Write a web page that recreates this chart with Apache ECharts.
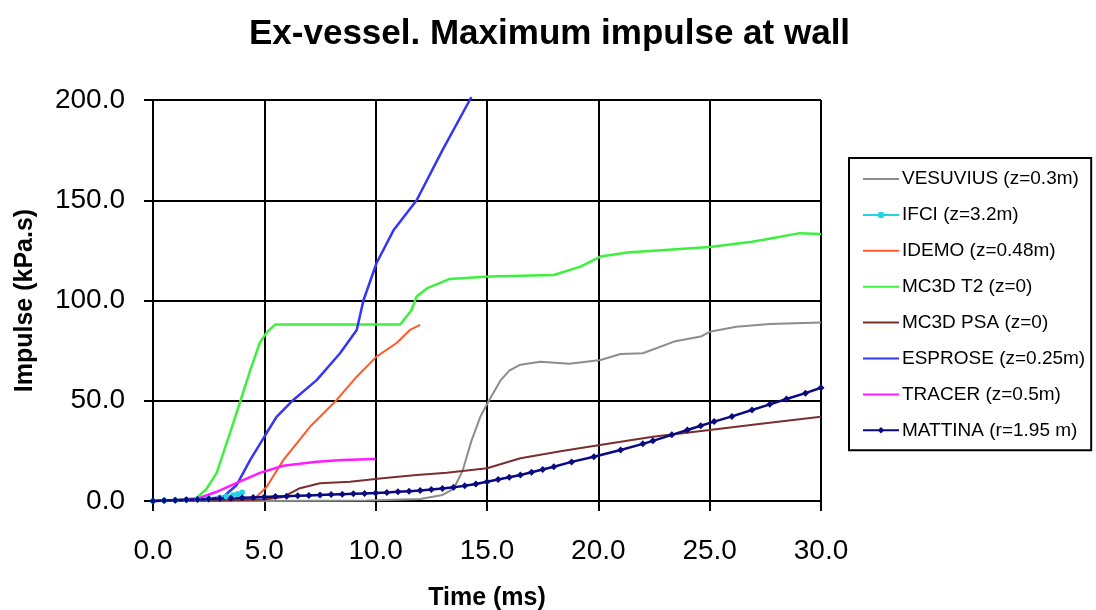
<!DOCTYPE html>
<html>
<head>
<meta charset="utf-8">
<title>Ex-vessel. Maximum impulse at wall</title>
<script src="https://cdn.jsdelivr.net/npm/echarts@6/dist/echarts.min.js"></script>
<style>
  html, body { margin: 0; padding: 0; background: #ffffff; }
  #chart { width: 1096px; height: 610px; }
</style>
</head>
<body>
<div id="chart"></div>
<script>
// Axis ticks
const timeTicks = [0, 5, 10, 15, 20, 25, 30];
const impulseTicks = [0, 50, 100, 150, 200];

// VESUVIUS (z=0.3m)
const vesuviusT = [0, 5, 9.6, 12, 13, 13.5, 13.9, 14.3, 14.7, 15.1, 15.6, 16.0, 16.5, 17.4, 18.7, 20.1, 21.0, 22.0, 23.4, 24.6, 25.0, 26.2, 27.7, 30.0];
const vesuviusV = [0, 0, 0.3, 1, 3, 6, 15, 30, 42, 50.4, 60, 65, 68, 69.5, 68.5, 70.3, 73.3, 73.7, 79.5, 82, 84.4, 86.9, 88.3, 89];

// IFCI (z=3.2m)
const ifciT = [0, 0.5, 1.0, 1.5, 2.0, 2.5, 3.0, 3.3, 3.6, 3.8, 4.0];
const ifciV = [0, 0.2, 0.4, 0.6, 0.9, 1.2, 1.8, 2.3, 2.9, 3.5, 4.2];

// IDEMO (z=0.48m)
const idemoT = [0, 2, 4.5, 5.1, 5.85, 7.05, 8.25, 9.15, 10.04, 10.94, 11.54, 12.0];
const idemoV = [0, 0, 0.5, 7, 20.4, 37, 50.4, 62, 72, 78.8, 85.3, 87.8];

// MC3D T2 (z=0)
const t2T = [0, 1.0, 1.96, 2.4, 2.86, 3.46, 3.9, 4.36, 4.8, 5.1, 5.48, 8.0, 11.1, 11.6, 11.84, 12.3, 13.3, 15.1, 18.0, 19.2, 20.1, 21.3, 25.0, 26.9, 27.55, 29.05, 30.0];
const t2V = [0, 0.5, 1.5, 6, 14, 34, 49, 65, 79, 84, 88, 88, 88, 95, 102, 106, 110.7, 112, 112.7, 116.9, 121.9, 123.9, 126.7, 129.3, 130.5, 133.6, 133.2];

// MC3D PSA (z=0)
const psaT = [0, 3, 5.0, 5.85, 6.6, 7.5, 8.85, 10.3, 11.84, 13.2, 15.0, 16.5, 18.3, 20.07, 22.45, 25.0, 27.5, 30.0];
const psaV = [0, 0.3, 0.8, 2, 6.4, 8.9, 9.6, 11.4, 13, 14.1, 16.3, 21.3, 24.8, 27.9, 32, 35.4, 38.8, 42];

// ESPROSE (z=0.25m)
const esproseT = [0, 2, 3.15, 3.76, 4.36, 5.1, 5.55, 6.3, 7.35, 8.4, 9.15, 9.45, 10.04, 10.8, 11.84, 13.0, 14.3];
const esproseV = [0, 0.5, 2, 8, 20.4, 33.9, 42, 50.4, 60.3, 73.7, 85.3, 100, 118.7, 135, 150, 175, 201.5];

// TRACER (z=0.5m)
const tracerT = [0, 1.0, 1.96, 2.86, 3.76, 4.8, 5.85, 7.35, 8.5, 10.0];
const tracerV = [0, 0.4, 1, 4.6, 9, 14, 17.6, 19.6, 20.4, 21];

// MATTINA (r=1.95 m)
const mattinaT = [0, 0.5, 1, 1.5, 2, 2.5, 3, 3.5, 4, 4.5, 5, 5.5, 6, 6.5, 7, 7.5, 8, 8.5, 9, 9.5, 10, 10.5, 11, 11.5, 12, 12.5, 13, 13.5, 14, 14.5, 15, 15.5, 16, 16.5, 17, 17.5, 18, 18.8, 19.8, 21, 22, 22.45, 23.3, 24, 24.6, 25.2, 26, 26.9, 27.7, 28.45, 29.3, 30];
const mattinaV = [0, 0.2, 0.4, 0.6, 0.8, 1.0, 1.2, 1.4, 1.6, 1.8, 2.0, 2.2, 2.4, 2.6, 2.8, 3.0, 3.2, 3.4, 3.6, 3.8, 4.0, 4.3, 4.6, 4.9, 5.2, 5.7, 6.2, 6.8, 7.6, 8.5, 9.6, 10.7, 11.8, 13, 14.3, 15.7, 17.1, 19.5, 22.1, 25.4, 28.5, 30, 33, 35.4, 37.5, 39.6, 42.2, 45.4, 48.2, 50.9, 53.8, 56.5];

const pairs = (ts, vs) => ts.map((t, i) => [t, vs[i]]);

const FONT = "'Liberation Sans', Arial, sans-serif";

function lineSeries(name, ts, vs, color, width, symbol, symbolSize) {
  return {
    name: name,
    type: 'line',
    data: pairs(ts, vs),
    clip: false,
    symbol: symbol || 'circle',
    symbolSize: symbolSize || 0,
    showSymbol: !!symbol,
    lineStyle: { color: color, width: width },
    itemStyle: { color: color },
    emphasis: { disabled: true },
    animation: false
  };
}

// Legend entries: plain line for curves, line + marker for the marked ones
function legendEntry(name, marked) {
  return marked ? { name: name } : { name: name, itemStyle: { opacity: 0 } };
}

const chart = echarts.init(document.getElementById('chart'), null, { renderer: 'canvas' });

chart.setOption({
  backgroundColor: '#ffffff',
  textStyle: { fontFamily: FONT },
  title: {
    text: 'Ex-vessel. Maximum impulse at wall',
    left: 244,
    top: 12,
    textStyle: { fontFamily: FONT, fontSize: 35, fontWeight: 'bold', color: '#000000' }
  },
  grid: { left: 153, right: 275, top: 100, bottom: 109, containLabel: false, outerBoundsMode: 'none' },
  xAxis: {
    type: 'value',
    min: timeTicks[0],
    max: timeTicks[timeTicks.length - 1],
    interval: timeTicks[1] - timeTicks[0],
    name: 'Time (ms)',
    nameLocation: 'middle',
    nameGap: 85,
    nameTextStyle: { fontFamily: FONT, fontSize: 25, fontWeight: 'bold', color: '#000000' },
    axisLine: { show: true, lineStyle: { color: '#000000', width: 2 } },
    axisTick: { show: true, inside: false, length: 10, lineStyle: { color: '#000000', width: 2 } },
    axisLabel: { margin: 36, fontSize: 28, color: '#000000', fontFamily: FONT, formatter: v => v.toFixed(1) },
    splitLine: { show: true, lineStyle: { color: '#000000', width: 2 } }
  },
  yAxis: {
    type: 'value',
    min: impulseTicks[0],
    max: impulseTicks[impulseTicks.length - 1],
    interval: impulseTicks[1] - impulseTicks[0],
    name: 'Impulse (kPa.s)',
    nameLocation: 'middle',
    nameGap: 115,
    nameTextStyle: { fontFamily: FONT, fontSize: 25, fontWeight: 'bold', color: '#000000' },
    axisLine: { show: true, lineStyle: { color: '#000000', width: 2 } },
    axisTick: { show: true, inside: false, length: 9, lineStyle: { color: '#000000', width: 2 } },
    axisLabel: { margin: 28, fontSize: 28, color: '#000000', fontFamily: FONT, formatter: v => v.toFixed(1) },
    splitLine: { show: true, lineStyle: { color: '#000000', width: 2 } }
  },
  legend: {
    orient: 'vertical',
    left: 849,
    top: 158,
    padding: [11, 6, 10, 13],
    itemGap: 15.9,
    itemWidth: 36,
    itemHeight: 8,
    backgroundColor: '#ffffff',
    borderColor: '#000000',
    borderWidth: 2,
    borderRadius: 0,
    textStyle: { fontFamily: FONT, fontSize: 19, lineHeight: 20, height: 20, color: '#000000', padding: [0, 0, 0, -2] },
    data: [
      legendEntry('VESUVIUS (z=0.3m)', false),
      legendEntry('IFCI (z=3.2m)', true),
      legendEntry('IDEMO (z=0.48m)', false),
      legendEntry('MC3D T2 (z=0)', false),
      legendEntry('MC3D PSA (z=0)', false),
      legendEntry('ESPROSE (z=0.25m)', false),
      legendEntry('TRACER (z=0.5m)', false),
      legendEntry('MATTINA (r=1.95 m)', true)
    ]
  },
  series: [
    lineSeries('VESUVIUS (z=0.3m)', vesuviusT, vesuviusV, '#8c8c8c', 2),
    lineSeries('IFCI (z=3.2m)', ifciT, ifciV, '#22d3e6', 2, 'circle', 6),
    lineSeries('IDEMO (z=0.48m)', idemoT, idemoV, '#ff5a28', 2),
    lineSeries('MC3D T2 (z=0)', t2T, t2V, '#3ef03e', 2.5),
    lineSeries('MC3D PSA (z=0)', psaT, psaV, '#7a2e2e', 2),
    lineSeries('ESPROSE (z=0.25m)', esproseT, esproseV, '#3535f5', 2.5),
    lineSeries('TRACER (z=0.5m)', tracerT, tracerV, '#ff1aff', 2.5),
    lineSeries('MATTINA (r=1.95 m)', mattinaT, mattinaV, '#0a0a80', 2.5, 'diamond', 7)
  ]
});
</script>
</body>
</html>
